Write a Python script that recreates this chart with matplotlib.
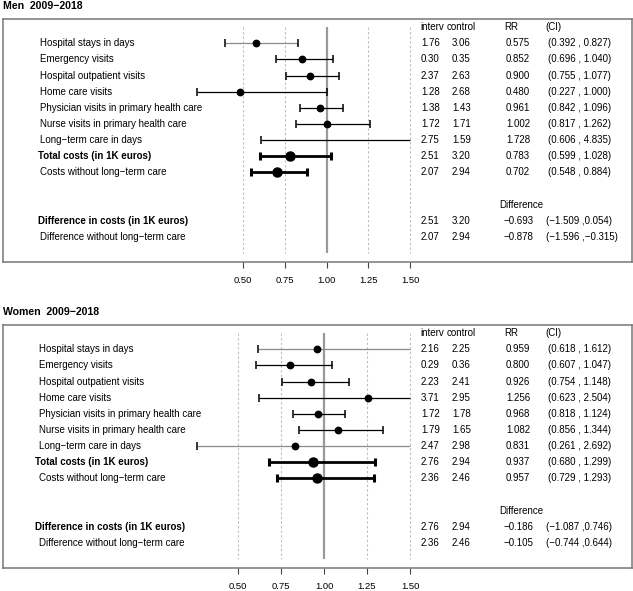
import matplotlib.pyplot as plt
from matplotlib.transforms import blended_transform_factory

plt.rcParams['font.family'] = ['Liberation Sans', 'DejaVu Sans']

labels = ["Hospital stays in days", "Emergency visits", "Hospital outpatient visits",
          "Home care visits", "Physician visits in primary health care",
          "Nurse visits in primary health care", "Long\u2212term care in days",
          "Total costs (in 1K euros)", "Costs without long\u2212term care"]
diff_labels = ["Difference in costs (in 1K euros)", "Difference without long\u2212term care"]

men_interv = [1.76, 0.30, 2.37, 1.28, 1.38, 1.72, 2.75, 2.51, 2.07]
men_control = [3.06, 0.35, 2.63, 2.68, 1.43, 1.71, 1.59, 3.20, 2.94]
men_rr = [0.575, 0.852, 0.900, 0.480, 0.961, 1.002, 1.728, 0.783, 0.702]
men_lo = [0.392, 0.696, 0.755, 0.227, 0.842, 0.817, 0.606, 0.599, 0.548]
men_hi = [0.827, 1.040, 1.077, 1.000, 1.096, 1.262, 4.835, 1.028, 0.884]
men_diff_interv = [2.51, 2.07]
men_diff_control = [3.20, 2.94]
men_diff = [-0.693, -0.878]
men_diff_lo = [-1.509, -1.596]
men_diff_hi = [0.054, -0.315]

women_interv = [2.16, 0.29, 2.23, 3.71, 1.72, 1.79, 2.47, 2.76, 2.36]
women_control = [2.25, 0.36, 2.41, 2.95, 1.78, 1.65, 2.98, 2.94, 2.46]
women_rr = [0.959, 0.800, 0.926, 1.256, 0.968, 1.082, 0.831, 0.937, 0.957]
women_lo = [0.618, 0.607, 0.754, 0.623, 0.818, 0.856, 0.261, 0.680, 0.729]
women_hi = [1.612, 1.047, 1.148, 2.504, 1.124, 1.344, 2.692, 1.299, 1.293]
women_diff_interv = [2.76, 2.36]
women_diff_control = [2.94, 2.46]
women_diff = [-0.186, -0.105]
women_diff_lo = [-1.087, -0.744]
women_diff_hi = [0.746, 0.644]

ticks = [0.50, 0.75, 1.00, 1.25, 1.50]
W, H = 633, 591
FS = 7.0


def fx(px):
    # pixel x -> axes fraction (box spans 3..632 px)
    return (px - 3) / 629.0


def panel(title, top_px, xlim, rr, lo, hi, interv, control,
          d_interv, d_control, d, d_lo, d_hi, grey_rows, lab_x, bold_x):
    bot_px = top_px + 243
    ax = fig.add_axes([3 / W, 1 - bot_px / H, 629 / W, 243 / H])
    ax.set_xlim(*xlim)
    ax.set_ylim(14.55, -0.5)
    fig.text(3 / W, 1 - (top_px - 13) / H, title, fontsize=7.6,
             fontweight='bold', va='center', ha='left')

    ax.vlines([0.5, 0.75, 1.25, 1.5], 0, 14, colors='#bdbdbd',
              linestyles=(0, (2.2, 2.2)), lw=0.75)
    ax.vlines(1.0, 0, 14, colors='#9a9a9a', lw=1.6)

    clip = ticks[-1]
    for i in range(len(rr)):
        y = i + 1
        bold = i >= 7
        lw = 2.0 if bold else 0.9
        col = '#8a8a8a' if i in grey_rows else 'black'
        right = min(hi[i], clip)
        ax.plot([lo[i], right], [y, y], color=col, lw=lw, solid_capstyle='butt')
        ax.plot([lo[i]], [y], marker='|', color='black', ms=6, mew=lw + 0.2)
        if hi[i] <= clip:
            ax.plot([hi[i]], [y], marker='|', color='black', ms=6, mew=lw + 0.2)
        if rr[i] <= clip:
            ax.plot([rr[i]], [y], 'o', color='black', ms=6.5 if bold else 4.6)

    tr = blended_transform_factory(ax.transAxes, ax.transData)
    for i, lab in enumerate(labels):
        bold = lab.startswith("Total")
        ax.text(fx(bold_x if bold else lab_x), i + 1, lab, transform=tr, fontsize=FS,
                va='center', ha='left', fontweight='bold' if bold else 'normal')
    for j, lab in enumerate(diff_labels):
        bold = j == 0
        ax.text(fx(bold_x if bold else lab_x), 12 + j, lab, transform=tr, fontsize=FS,
                va='center', ha='left', fontweight='bold' if bold else 'normal')

    ax.text(fx(420), 0, "interv", transform=tr, fontsize=FS, va='center')
    ax.text(fx(447), 0, "control", transform=tr, fontsize=FS, va='center')
    ax.text(fx(504), 0, "RR", transform=tr, fontsize=FS, va='center')
    ax.text(fx(545), 0, "(CI)", transform=tr, fontsize=FS, va='center')
    for i in range(len(rr)):
        y = i + 1
        ax.text(fx(421), y, f"{interv[i]:.2f}", transform=tr, fontsize=FS, va='center')
        ax.text(fx(452), y, f"{control[i]:.2f}", transform=tr, fontsize=FS, va='center')
        ax.text(fx(506), y, f"{rr[i]:.3f}", transform=tr, fontsize=FS, va='center')
        ax.text(fx(548), y, f"({lo[i]:.3f} , {hi[i]:.3f})", transform=tr,
                fontsize=FS, va='center')
    ax.text(fx(521), 11, "Difference", transform=tr, fontsize=FS, va='center', ha='center')
    for j in range(len(d)):
        y = 12 + j
        ax.text(fx(421), y, f"{d_interv[j]:.2f}", transform=tr, fontsize=FS, va='center')
        ax.text(fx(452), y, f"{d_control[j]:.2f}", transform=tr, fontsize=FS, va='center')
        ax.text(fx(503), y, f"{d[j]:.3f}".replace('-', '\u2212'), transform=tr,
                fontsize=FS, va='center')
        ci = f"({d_lo[j]:.3f} ,{d_hi[j]:.3f})".replace('-', '\u2212')
        ax.text(fx(546), y, ci, transform=tr, fontsize=FS, va='center')

    ax.set_yticks([])
    ax.set_xticks(ticks)
    ax.set_xticklabels([f"{t:.2f}" for t in ticks])
    ax.tick_params(axis='x', length=4, width=0.8, color='#444444', labelsize=6.8, pad=6)
    for s in ax.spines.values():
        s.set_color('#777777')
        s.set_linewidth(1.1)
    return ax


fig = plt.figure(figsize=(W / 100, H / 100), dpi=100)

panel("Men  2009\u22122018", 19, (0.5 - 240 / 167, 1.5 + 222 / 167),
      men_rr, men_lo, men_hi, men_interv, men_control,
      men_diff_interv, men_diff_control, men_diff, men_diff_lo, men_diff_hi,
      grey_rows=[0], lab_x=40, bold_x=38)
panel("Women  2009\u22122018", 325, (0.5 - 235 / 172, 1.5 + 222 / 172),
      women_rr, women_lo, women_hi, women_interv, women_control,
      women_diff_interv, women_diff_control, women_diff, women_diff_lo, women_diff_hi,
      grey_rows=[0, 6], lab_x=39, bold_x=35)

fig.savefig("out.png", dpi=100)
